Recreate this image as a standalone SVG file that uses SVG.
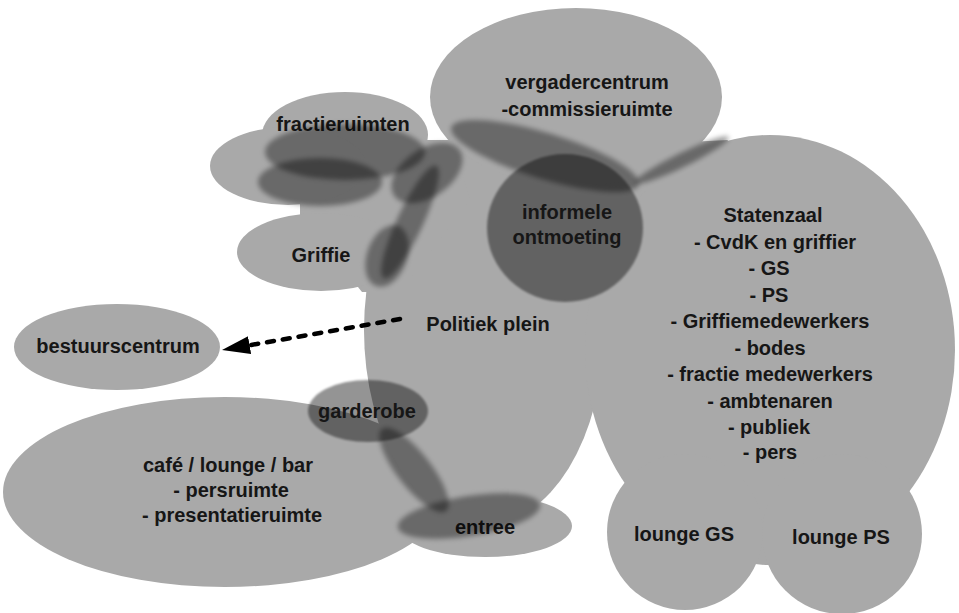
<svg xmlns="http://www.w3.org/2000/svg" width="959" height="613" viewBox="0 0 959 613">
<defs>
<style>
.room{fill:#a9a9a9}
.shade{fill:#000;fill-opacity:.38;filter:url(#soft)}
.dark{fill:#000;fill-opacity:.42;filter:url(#soft2)}
text{font-family:"Liberation Sans",Arial,Helvetica,sans-serif;font-size:20px;font-weight:bold;fill:#161616;text-anchor:middle}
.dash{stroke:#000;stroke-width:4.5;stroke-dasharray:7 9;stroke-linecap:round;fill:none}
</style>
<filter id="soft" x="-30%" y="-30%" width="160%" height="160%"><feGaussianBlur stdDeviation="2.5"/></filter>
<filter id="soft2" x="-20%" y="-20%" width="140%" height="140%"><feGaussianBlur stdDeviation="1.2"/></filter>
<marker id="arrow" markerUnits="userSpaceOnUse" markerWidth="30" markerHeight="20" refX="0" refY="9" orient="auto"><path d="M0,0 L28,9 L0,18 Z" fill="#000"/></marker>
</defs>
<rect width="959" height="613" fill="#fff"/>

<g id="cafe">
<ellipse class="room" cx="225" cy="492" rx="222" ry="95"/>
<text x="228" y="472">café / lounge / bar</text>
<text x="231" y="497">- persruimte</text>
<text x="232" y="522">- presentatieruimte</text>
</g>

<g id="bestuurscentrum">
<ellipse class="room" cx="117" cy="347" rx="103" ry="43"/>
<text x="118" y="353">bestuurscentrum</text>
</g>

<g id="politiek-plein">
<ellipse class="room" cx="484" cy="330" rx="120" ry="195"/>
<polygon class="room" points="300,200 400,140 452,140 470,200 400,292 362,292 300,215"/>
<polygon class="room" points="530,150 728,140 700,200 640,320 530,320"/>
<text x="488" y="331">Politiek plein</text>
</g>

<g id="griffie">
<ellipse class="room" cx="321" cy="252" rx="84" ry="39"/>
<text x="321" y="262">Griffie</text>
</g>

<g id="fractieruimten">
<ellipse class="room" cx="345" cy="135" rx="83" ry="43"/>
<ellipse class="room" cx="288" cy="166" rx="78" ry="39"/>
<text x="343" y="131">fractieruimten</text>
</g>

<g id="vergadercentrum">
<ellipse class="room" cx="576" cy="97" rx="146" ry="89"/>
<text x="587" y="89">vergadercentrum</text>
<text x="587" y="116">-commissieruimte</text>
</g>

<g id="statenzaal">
<ellipse class="room" cx="770" cy="350" rx="185" ry="215"/>
<text x="773" y="222">Statenzaal</text>
<text x="775" y="248.5">- CvdK en griffier</text>
<text x="769" y="275">- GS</text>
<text x="769" y="301.5">- PS</text>
<text x="770" y="328">- Griffiemedewerkers</text>
<text x="770" y="354.5">- bodes</text>
<text x="770" y="381">- fractie medewerkers</text>
<text x="770" y="407.5">- ambtenaren</text>
<text x="769" y="434">- publiek</text>
<text x="770" y="459">- pers</text>
</g>

<g id="lounge-gs">
<circle class="room" cx="685" cy="532" r="78"/>
<text x="684" y="541">lounge GS</text>
</g>

<g id="lounge-ps">
<circle class="room" cx="842" cy="534" r="80"/>
<text x="841" y="544">lounge PS</text>
</g>

<g id="entree">
<ellipse class="room" cx="485" cy="526" rx="87" ry="31"/>
<text x="485" y="534">entree</text>
</g>

<g id="connectors">
<ellipse class="shade" cx="345" cy="152" rx="80" ry="28"/>
<ellipse class="shade" cx="320" cy="182" rx="62" ry="24"/>
<ellipse class="shade" cx="427" cy="173" rx="40" ry="24" transform="rotate(-35 427 173)"/>
<ellipse class="shade" cx="410" cy="222" rx="62" ry="13" transform="rotate(-65 410 222)"/>
<ellipse class="shade" cx="387" cy="256" rx="20" ry="32" transform="rotate(20 387 256)"/>
<ellipse class="shade" cx="545" cy="156" rx="98" ry="23" transform="rotate(17 545 156)"/>
<ellipse class="shade" cx="682" cy="160" rx="52" ry="7" transform="rotate(-26 682 160)"/>
<ellipse class="shade" cx="414" cy="470" rx="52" ry="17" transform="rotate(52 414 470)"/>
<ellipse class="shade" cx="469" cy="516" rx="72" ry="20" transform="rotate(-9 469 516)"/>
<path class="dash" d="M400,319 L249.6,345.2" marker-end="url(#arrow)"/>
</g>

<g id="informele-ontmoeting">
<ellipse class="dark" cx="565" cy="228" rx="78" ry="74"/>
<text x="567" y="219">informele</text>
<text x="567" y="244">ontmoeting</text>
</g>

<g id="garderobe">
<ellipse class="dark" cx="368" cy="411" rx="60" ry="31"/>
<text x="367" y="418">garderobe</text>
</g>
</svg>
